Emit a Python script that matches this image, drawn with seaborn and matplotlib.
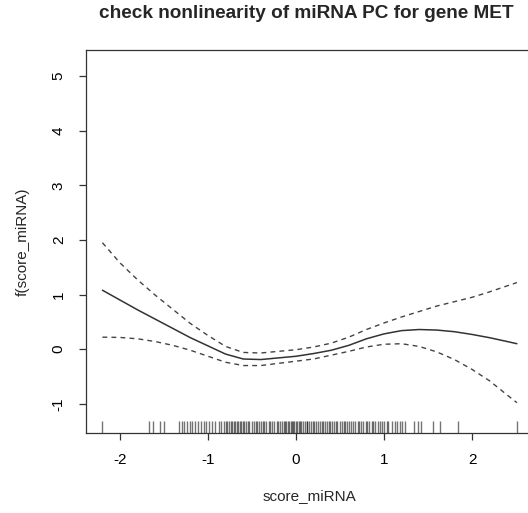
import numpy as np
import pandas as pd
import matplotlib
matplotlib.use("Agg")
import matplotlib.pyplot as plt
import seaborn as sns

# ---- data ----
fit_x = [-2.20, -2.0, -1.8, -1.6, -1.4, -1.2, -1.0, -0.8, -0.6, -0.4, -0.2, 0.0,
         0.2, 0.4, 0.6, 0.8, 1.0, 1.2, 1.4, 1.6, 1.8, 2.0, 2.2, 2.4, 2.51]
fit_y = [1.08, 0.90, 0.72, 0.55, 0.38, 0.21, 0.06, -0.09, -0.18, -0.19, -0.16, -0.13,
         -0.08, -0.02, 0.07, 0.19, 0.28, 0.34, 0.36, 0.35, 0.32, 0.27, 0.21, 0.14, 0.10]
upper_y = [1.95, 1.58, 1.27, 0.99, 0.73, 0.47, 0.25, 0.05, -0.06, -0.07, -0.04, -0.01,
           0.04, 0.11, 0.22, 0.36, 0.48, 0.59, 0.69, 0.79, 0.87, 0.95, 1.05, 1.16, 1.22]
lower_y = [0.22, 0.215, 0.19, 0.14, 0.07, -0.02, -0.13, -0.24, -0.30, -0.30, -0.26, -0.22,
           -0.18, -0.11, -0.04, 0.04, 0.09, 0.10, 0.05, -0.05, -0.19, -0.37, -0.58, -0.84, -0.98]

rug_x = [-2.20, -1.67, -1.63, -1.55, -1.50,
         -1.33, -1.30, -1.27, -1.24, -1.21, -1.18, -1.15, -1.11, -1.08, -1.05, -1.02, -0.99,
         -0.96, -0.92, -0.88, -0.85, -0.82, -0.80, -0.78, -0.76, -0.74, -0.73, -0.71, -0.69,
         -0.67, -0.66, -0.64, -0.62, -0.60, -0.59, -0.57, -0.55, -0.53, -0.50, -0.48, -0.46,
         -0.44, -0.42, -0.40, -0.38, -0.36, -0.34, -0.31, -0.29, -0.27, -0.25, -0.22, -0.20,
         -0.18, -0.16, -0.14, -0.12, -0.11, -0.09, -0.08, -0.06, -0.05, -0.03, -0.02, 0.00,
         0.01, 0.03, 0.04, 0.06, 0.08, 0.10, 0.12, 0.13, 0.15, 0.17, 0.19, 0.21, 0.23, 0.25,
         0.27, 0.29, 0.31, 0.33, 0.35, 0.37, 0.39, 0.41, 0.43, 0.45, 0.47, 0.50, 0.52, 0.54,
         0.56, 0.58, 0.60, 0.62, 0.65, 0.67, 0.70, 0.72, 0.74, 0.76, 0.79, 0.81, 0.83, 0.86,
         0.88, 0.90, 0.93, 0.95, 0.98, 1.00,
         1.03, 1.05, 1.09, 1.12, 1.15, 1.18, 1.21, 1.24, 1.34, 1.39, 1.42, 1.56, 1.64, 1.84, 2.51]

x_ticks = [-2, -1, 0, 1, 2]
y_ticks = [-1, 0, 1, 2, 3, 4, 5]
title = "check nonlinearity of miRNA PC for gene MET"
x_label = "score_miRNA"
y_label = "f(score_miRNA)"

df = pd.DataFrame({"x": fit_x, "fit": fit_y, "upper": upper_y, "lower": lower_y})

sns.set_theme(style="white")
plt.rcParams["font.family"] = ["Liberation Sans", "DejaVu Sans"]

W, H = 528, 513
fig = plt.figure(figsize=(W / 100, H / 100), dpi=100)
left, right, top, bottom = 85.7, 533.6, 50.0, 432.7
ax = fig.add_axes([left / W, 1 - bottom / H, (right - left) / W, (bottom - top) / H])

sns.lineplot(data=df, x="x", y="fit", ax=ax, color="#333333", lw=1.1, sort=False)
sns.lineplot(data=df, x="x", y="upper", ax=ax, color="#444444", lw=1.0, sort=False,
             dashes=False, linestyle=(0, (3.5, 3)))
sns.lineplot(data=df, x="x", y="lower", ax=ax, color="#444444", lw=1.0, sort=False,
             dashes=False, linestyle=(0, (3.5, 3)))
sns.rugplot(x=rug_x, ax=ax, height=0.03, color="black", alpha=0.55, lw=0.9)

ax.set_xlim(-2.39, 2.70)
ax.set_ylim(-1.53, 5.48)
ax.set_xticks(x_ticks)
ax.set_yticks(y_ticks)
ax.set_xticklabels([str(v) for v in x_ticks])
ax.set_yticklabels([str(v) for v in y_ticks], rotation=90, va="center")

for s in ax.spines.values():
    s.set_color("#333333")
    s.set_linewidth(0.9)
ax.tick_params(axis="both", direction="out", length=5.3, width=0.9, color="#333333",
               labelsize=11, labelcolor="black", bottom=True, left=True)
ax.tick_params(axis="x", pad=9.5)
ax.tick_params(axis="y", pad=9)

ax.set_xlabel(x_label, fontsize=11, labelpad=16)
ax.set_ylabel(y_label, fontsize=11, labelpad=16)
fig.text(306 / W, 1 - 13 / H, title, ha="center", va="center",
         fontsize=13.7, fontweight="bold")

fig.savefig("out.png", dpi=100)
